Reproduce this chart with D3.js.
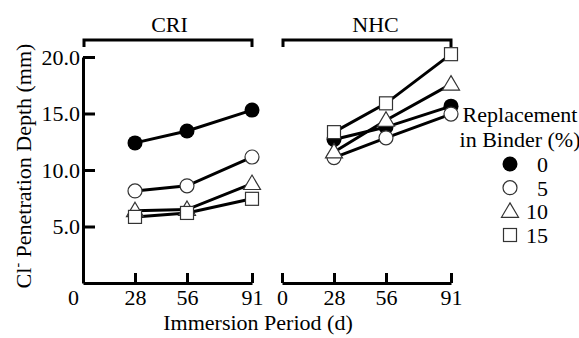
<!DOCTYPE html>
<html>
<head>
<meta charset="utf-8">
<script src="https://cdn.jsdelivr.net/npm/d3@7"></script>
</head>
<body style="margin:0;background:#fff">
<svg id="chart" width="579" height="338"></svg>
<script>
// immersion periods (d)
const days = [28, 56, 91];
const xTicks = [0, 28, 56, 91];
const yTicks = [5, 10, 15, 20];
const replacement = [0, 5, 10, 15];
const panels = ["CRI", "NHC"];

// penetration depth (mm), one row per replacement level
const cri = [
  [12.4, 13.45, 15.3],
  [8.15, 8.6, 11.15],
  [6.4, 6.5, 8.8],
  [5.85, 6.2, 7.45]
];
const nhc = [
  [12.7, 13.8, 15.65],
  [11.1, 12.85, 14.95],
  [11.6, 14.4, 17.6],
  [13.35, 15.9, 20.25]
];

const svg = d3.select("#chart");
const FONT = 22;
const FAMILY = "Liberation Serif";

const y = d3.scaleLinear().domain([0, 20]).range([283, 57]);
const xs = [
  d3.scaleLinear().domain([0, 91]).range([83, 252]),
  d3.scaleLinear().domain([0, 91]).range([282, 451])
];
const symbols = ["fcircle", "circle", "triangle", "square"];

function drawMarker(g, type, cx, cy) {
  if (type === "fcircle") {
    g.append("circle").attr("cx", cx).attr("cy", cy).attr("r", 7.5)
      .attr("fill", "#000");
  } else if (type === "circle") {
    g.append("circle").attr("cx", cx).attr("cy", cy).attr("r", 7)
      .attr("fill", "#fff").attr("stroke", "#333").attr("stroke-width", 1.2);
  } else if (type === "triangle") {
    const s = 8.5;
    g.append("path")
      .attr("d", `M${cx},${cy - s} L${cx + s},${cy + s * 0.7} L${cx - s},${cy + s * 0.7}Z`)
      .attr("fill", "#fff").attr("stroke", "#333").attr("stroke-width", 1.2);
  } else {
    g.append("rect").attr("x", cx - 6.5).attr("y", cy - 6.5)
      .attr("width", 13).attr("height", 13)
      .attr("fill", "#fff").attr("stroke", "#333").attr("stroke-width", 1.2);
  }
}

// y axis (left panel only)
const yAxis = svg.append("g")
  .attr("transform", `translate(${xs[0].range()[0]},0)`)
  .call(d3.axisLeft(y).tickValues(yTicks).tickFormat(d3.format(".1f"))
    .tickSize(-12).tickSizeOuter(0).tickPadding(3));
yAxis.select(".domain").attr("stroke-width", 3);
yAxis.selectAll(".tick line").attr("stroke-width", 3);

// x axes
[0, 1].forEach(i => {
  const ax = svg.append("g")
    .attr("transform", `translate(0,${y(0)})`)
    .call(d3.axisBottom(xs[i]).tickValues(xTicks).tickFormat(d3.format("d"))
      .tickSize(-10).tickSizeOuter(0).tickPadding(6));
  ax.select(".domain").attr("stroke-width", 3);
  ax.selectAll(".tick line").attr("stroke-width", 3);
  if (i === 0) {
    ax.selectAll(".tick").filter(d => d === 0).select("text").attr("x", -10);
  }
});

// brackets + panel titles
panels.forEach((name, i) => {
  const [a, b] = xs[i].range();
  svg.append("path")
    .attr("d", `M${a + 1},47 V40 H${b} V47`)
    .attr("fill", "none").attr("stroke", "#000").attr("stroke-width", 3);
  svg.append("text")
    .attr("x", (a + b) / 2 + (i === 0 ? 2 : 9)).attr("y", 32)
    .attr("text-anchor", "middle")
    .text(name);
});

// series
const line = d3.line();
[cri, nhc].forEach((data, pi) => {
  const x = xs[pi];
  const g = svg.append("g");
  data.forEach(vals => {
    g.append("path")
      .attr("d", line(vals.map((v, j) => [x(days[j]), y(v)])))
      .attr("fill", "none").attr("stroke", "#000").attr("stroke-width", 3);
  });
  data.forEach((vals, si) => {
    vals.forEach((v, j) => drawMarker(g, symbols[si], x(days[j]), y(v)));
  });
});

// axis titles
svg.append("text")
  .attr("x", 258).attr("y", 330)
  .attr("text-anchor", "middle")
  .text("Immersion Period (d)");

const yt = svg.append("text")
  .attr("transform", "translate(31,166) rotate(-90)")
  .attr("text-anchor", "middle");
yt.append("tspan").text("Cl");
yt.append("tspan").attr("dy", -9).attr("font-size", 14).text("-");
yt.append("tspan").attr("dy", 9).text(" Penetration Depth (mm)");

// legend
const lg = svg.append("g");
lg.append("text").attr("x", 520).attr("y", 122).attr("text-anchor", "middle")
  .text("Replacement");
lg.append("text").attr("x", 520).attr("y", 147).attr("text-anchor", "middle")
  .text("in Binder (%)");
const rowY = d3.scalePoint().domain(replacement).range([164, 235]);
replacement.forEach((r, i) => {
  drawMarker(lg, symbols[i], 510, rowY(r));
  lg.append("text").attr("x", 548).attr("y", rowY(r) + 8)
    .attr("text-anchor", "end")
    .text(r);
});

// same font everywhere, and anchor every label at its start
svg.selectAll("text").each(function () {
  const t = d3.select(this)
    .attr("font-family", FAMILY).attr("font-size", FONT).attr("fill", "#000");
  const anchor = getComputedStyle(this).textAnchor;
  const w = this.getComputedTextLength();
  const x0 = +(t.attr("x") || 0);
  const shift = anchor === "middle" ? w / 2 : anchor === "end" ? w : 0;
  t.attr("x", x0 - shift).attr("text-anchor", "start");
});
</script>
</body>
</html>
